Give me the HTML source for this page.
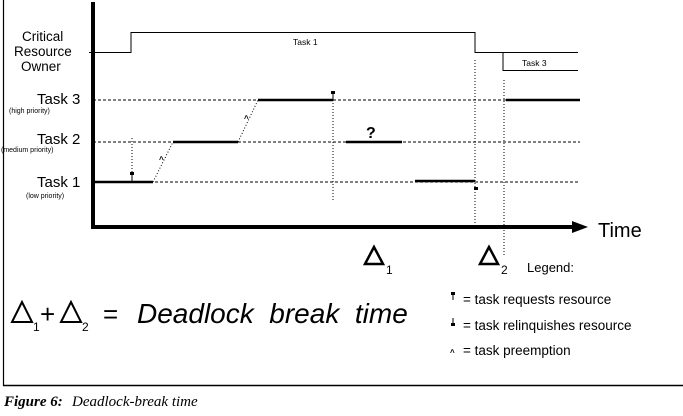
<!DOCTYPE html>
<html><head><style>
html,body{margin:0;padding:0;background:#fff;width:683px;height:416px;overflow:hidden}
svg{display:block}
text{font-family:"Liberation Sans",sans-serif;fill:#000;white-space:pre}
</style></head><body>
<svg width="683" height="416" viewBox="0 0 683 416" xmlns="http://www.w3.org/2000/svg" xml:space="preserve">
<line x1="3.5" y1="0" x2="3.5" y2="386" stroke="#000" stroke-width="1.2"/>
<line x1="3" y1="385.5" x2="683" y2="385.5" stroke="#000" stroke-width="1.5"/>
<line x1="93" y1="2" x2="93" y2="229" stroke="#000" stroke-width="4"/>
<line x1="91" y1="227" x2="575" y2="227" stroke="#000" stroke-width="4"/>
<polygon points="572,221 588,227 572,233" fill="#000"/>
<text x="598" y="237" font-size="20">Time</text>
<text x="22" y="41" font-size="13.5">Critical</text>
<text x="14" y="56" font-size="13.5">Resource</text>
<text x="21" y="71" font-size="13.5">Owner</text>
<text x="37" y="104" font-size="15">Task 3</text>
<text x="9" y="113" font-size="7">(high priority)</text>
<text x="37" y="144" font-size="15">Task 2</text>
<text x="1" y="152" font-size="7">(medium priority)</text>
<text x="37" y="187" font-size="15">Task 1</text>
<text x="26" y="198" font-size="7">(low priority)</text>
<polyline points="89,52.5 131,52.5 131,32.5 475,32.5 475,52.5 578,52.5" fill="none" stroke="#000" stroke-width="1"/>
<polyline points="503,52.5 503,70.5 578,70.5" fill="none" stroke="#000" stroke-width="1"/>
<text x="293" y="45" font-size="8.5">Task 1</text>
<text x="522" y="66" font-size="8.5">Task 3</text>
<g stroke="#000" stroke-width="1" stroke-dasharray="3,2" fill="none">
<line x1="93" y1="100" x2="580" y2="100"/>
<line x1="93" y1="142" x2="580" y2="142"/>
<line x1="155" y1="182" x2="580" y2="182"/>
</g>
<g stroke="#000" stroke-width="1" stroke-dasharray="1,2" fill="none">
<line x1="132" y1="138" x2="132" y2="176"/>
<line x1="333" y1="97" x2="333" y2="200"/>
<line x1="475" y1="60" x2="475" y2="230"/>
<line x1="504" y1="80" x2="504" y2="255"/>
<line x1="153" y1="182" x2="173" y2="142"/>
<line x1="238" y1="142" x2="258" y2="100"/>
</g>
<g stroke="#000" stroke-width="2.5">
<line x1="93" y1="182" x2="153" y2="182"/>
<line x1="173" y1="142" x2="238" y2="142"/>
<line x1="258" y1="100" x2="333" y2="100"/>
<line x1="346" y1="142" x2="402" y2="142"/>
<line x1="415" y1="181" x2="475" y2="181"/>
<line x1="506" y1="100" x2="580" y2="100"/>
</g>
<rect x="130" y="172" width="4" height="3" fill="#000"/><line x1="132" y1="175" x2="132" y2="182" stroke="#000"/>
<rect x="331" y="91" width="4" height="3" fill="#000"/><line x1="333" y1="94" x2="333" y2="100" stroke="#000"/>
<rect x="474" y="187" width="4" height="3" fill="#000"/>
<text x="159" y="162" font-size="8" font-weight="bold">^</text>
<text x="244" y="121" font-size="8" font-weight="bold">^</text>
<text x="366" y="138" font-size="16" font-weight="bold">?</text>
<polygon points="374,247 365,264 383,264" fill="none" stroke="#000" stroke-width="2.5"/>
<text x="386" y="274" font-size="12">1</text>
<polygon points="489,247 480,264 498,264" fill="none" stroke="#000" stroke-width="2.5"/>
<text x="501" y="274" font-size="12">2</text>
<text x="527" y="272" font-size="13">Legend:</text>
<polygon points="22,302 12,322 32,322" fill="none" stroke="#000" stroke-width="2"/>
<text x="33" y="331" font-size="12">1</text>
<text x="40" y="323" font-size="26">+</text>
<polygon points="71,302 61,322 81,322" fill="none" stroke="#000" stroke-width="2"/>
<text x="82" y="331" font-size="12">2</text>
<text x="103" y="323" font-size="26">=</text>
<text x="137" y="323" font-size="28" font-style="italic">Deadlock  break  time</text>
<rect x="451" y="292" width="4" height="3" fill="#000"/><line x1="453" y1="295" x2="453" y2="300" stroke="#000"/>
<text x="463" y="304" font-size="13.5">= task requests resource</text>
<line x1="453" y1="318" x2="453" y2="323" stroke="#000"/><rect x="451" y="323" width="4" height="3" fill="#000"/>
<text x="463" y="330" font-size="13.5">= task relinquishes resource</text>
<text x="450" y="355" font-size="8" font-weight="bold">^</text>
<text x="463" y="355" font-size="13.5">= task preemption</text>
<text x="4" y="406" font-size="15" font-weight="bold" font-style="italic" style="font-family:'Liberation Serif',serif">Figure 6:</text>
<text x="72" y="406" font-size="15" font-style="italic" style="font-family:'Liberation Serif',serif">Deadlock-break time</text>
</svg>
</body></html>
